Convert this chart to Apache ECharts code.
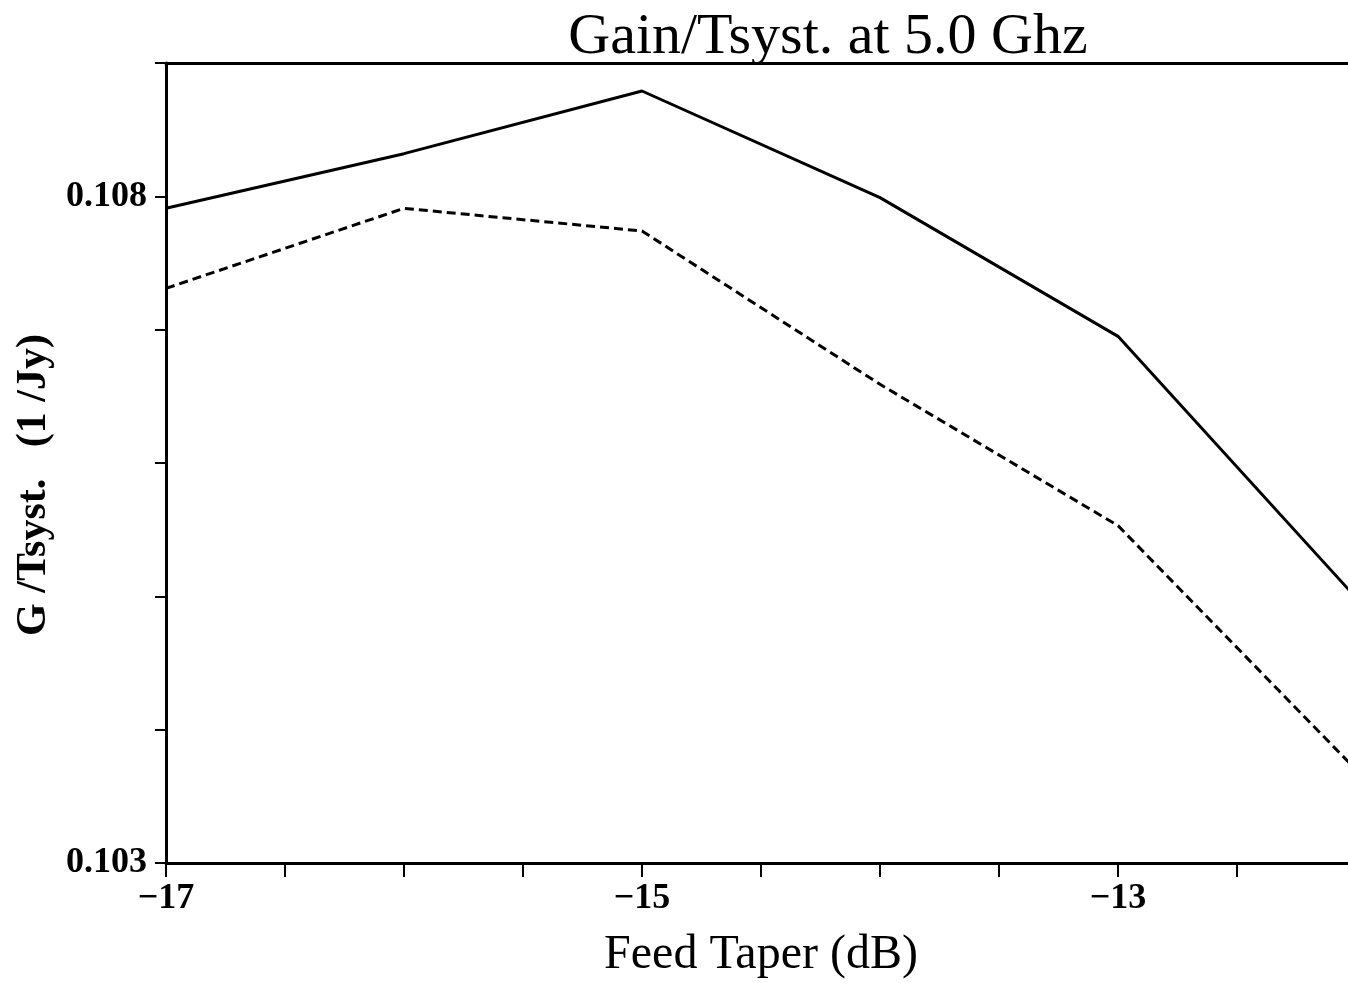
<!DOCTYPE html>
<html>
<head>
<meta charset="utf-8">
<script src="https://cdn.jsdelivr.net/npm/echarts@6/dist/echarts.min.js"></script>
<style>
html,body{margin:0;padding:0;background:#fff;}
#chart{width:1348px;height:983px;}
</style>
</head>
<body>
<div id="chart"></div>
<script>
const feedTaper = [-17, -16, -15, -14, -13, -12];
const solidSeries = [0.10791, 0.10832, 0.10879, 0.10799, 0.10695, 0.10499];
const dashedSeries = [0.10731, 0.10791, 0.10774, 0.10659, 0.10553, 0.10370];
const yLabelValues = [0.103, 0.108];
const xLabelValues = [-17, -15, -13];
const titleText = 'Gain/Tsyst. at 5.0 Ghz';
const xName = 'Feed Taper (dB)';
const yName = 'G /Tsyst.   (1 /Jy)';

const serif = '"Liberation Serif", "DejaVu Serif", serif';
const chart = echarts.init(document.getElementById('chart'), null, {renderer: 'canvas'});

function pairs(xs, ys) { return xs.map((x, i) => [x, ys[i]]); }

chart.setOption({
  animation: false,
  backgroundColor: '#fff',
  title: {
    text: titleText,
    left: 823, top: 4, textAlign: 'center',
    textStyle: {fontFamily: serif, fontSize: 58, fontWeight: 'normal', color: '#000'}
  },
  grid: {left: 166, top: 63, width: 1190, bottom: 120, containLabel: false, outerBoundsMode: 'none'},
  xAxis: [{
    type: 'value', min: -17, max: -12, interval: 0.5,
    position: 'bottom',
    name: xName, nameLocation: 'middle', nameGap: 68,
    nameTextStyle: {fontFamily: serif, fontSize: 48, color: '#000'},
    axisLine: {show: true, onZero: false, lineStyle: {color: '#000', width: 3}},
    axisTick: {show: true, inside: false, length: 14, lineStyle: {color: '#000', width: 2}},
    splitLine: {show: false},
    axisLabel: {
      fontFamily: serif, fontSize: 36, fontWeight: 'bold', color: '#000', margin: 18,
      formatter: v => xLabelValues.some(t => Math.abs(t - v) < 1e-6) ? '\u2212' + Math.abs(v) : ''
    }
  }, {
    type: 'value', min: -17, max: -12, position: 'top',
    axisLine: {show: true, onZero: false, lineStyle: {color: '#000', width: 3}},
    axisTick: {show: false}, axisLabel: {show: false}, splitLine: {show: false}
  }],
  yAxis: {
    type: 'value', min: 0.103, max: 0.109, interval: 0.001,
    name: yName, nameLocation: 'middle', nameRotate: 90, nameGap: 108,
    nameTextStyle: {fontFamily: serif, fontSize: 42, fontWeight: 'bold', color: '#000', padding: [0, 44, 0, 0]},
    axisLine: {show: true, onZero: false, lineStyle: {color: '#000', width: 3}},
    axisTick: {show: true, inside: false, length: 11, lineStyle: {color: '#000', width: 2}},
    splitLine: {show: false},
    axisLabel: {
      fontFamily: serif, fontSize: 36, fontWeight: 'bold', color: '#000', margin: 19,
      formatter: v => yLabelValues.some(t => Math.abs(t - v) < 1e-7) ? v.toFixed(3) : ''
    }
  },
  series: [{
    type: 'line', data: pairs(feedTaper, solidSeries), showSymbol: false, symbol: 'none',
    lineStyle: {color: '#000', width: 3, type: 'solid'}, clip: true
  }, {
    type: 'line', data: pairs(feedTaper, dashedSeries), showSymbol: false, symbol: 'none',
    lineStyle: {color: '#000', width: 3, type: [9, 5]}, clip: true
  }]
});
</script>
</body>
</html>
